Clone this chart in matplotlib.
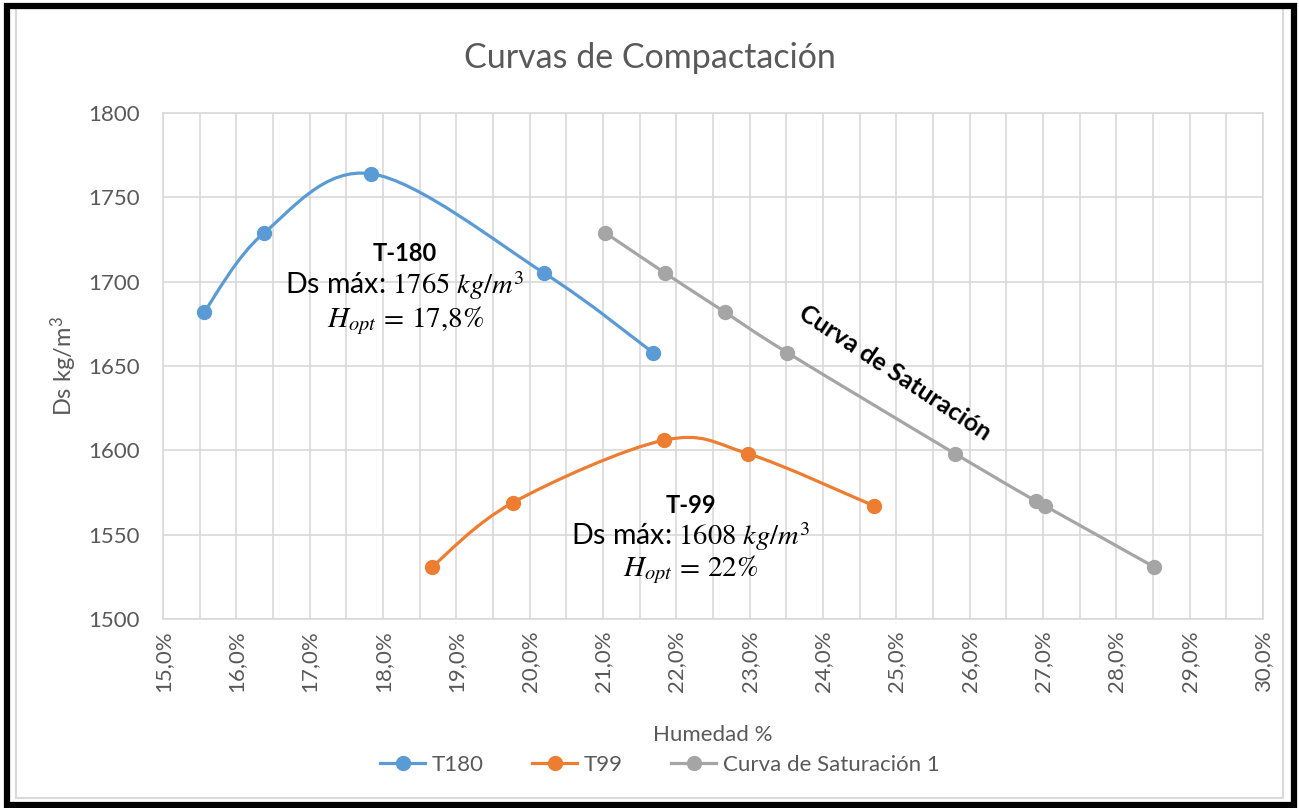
import numpy as np
import matplotlib.pyplot as plt
from matplotlib.path import Path
from matplotlib.patches import PathPatch, Rectangle
from matplotlib.lines import Line2D
from matplotlib.ticker import FuncFormatter, MultipleLocator

plt.rcParams['font.family'] = ['Lato', 'DejaVu Sans']
plt.rcParams['mathtext.fontset'] = 'stix'

# humedad (%) y densidad seca (kg/m3)
t180_h = [15.56, 16.38, 17.84, 20.20, 21.68]
t180_ds = [1682, 1729, 1764, 1705, 1658]
t99_h = [18.67, 19.77, 21.83, 22.98, 24.70]
t99_ds = [1531, 1569, 1606, 1598, 1567]
sat_h = [21.03, 21.85, 22.66, 23.51, 25.80, 26.90, 27.03, 28.51]
sat_ds = [1729, 1705, 1682, 1658, 1598, 1570, 1567, 1531]

series = [
    ("T180", t180_h, t180_ds, "#5B9BD5"),
    ("T99", t99_h, t99_ds, "#ED7D31"),
    ("Curva de Saturación 1", sat_h, sat_ds, "#A5A5A5"),
]

GRAY = "#595959"


def smooth_path(x, y):
    # curva suavizada tipo Excel (Bezier con tangentes Catmull-Rom)
    p = np.column_stack([x, y]).astype(float)
    n = len(p)
    verts = [p[0]]
    codes = [Path.MOVETO]
    for i in range(n - 1):
        p0 = p[i - 1] if i > 0 else p[i]
        p3 = p[i + 2] if i + 2 < n else p[i + 1]
        c1 = p[i] + (p[i + 1] - p0) / 6
        c2 = p[i + 1] - (p3 - p[i]) / 6
        verts += [c1, c2, p[i + 1]]
        codes += [Path.CURVE4] * 3
    return Path(verts, codes)


fig = plt.figure(figsize=(12.99, 8.08), dpi=100)
ax = fig.add_axes([0.1255, 0.2339, 0.8468, 0.6262])

for name, h, ds, color in series:
    ax.add_patch(PathPatch(smooth_path(h, ds), facecolor="none", edgecolor=color,
                           lw=2.3, zorder=3))
    ax.plot(h, ds, linestyle="none", marker="o", ms=10, color=color, zorder=4)

ax.set_xlim(15, 30)
ax.set_ylim(1500, 1800)
ax.xaxis.set_major_locator(MultipleLocator(1))
ax.xaxis.set_minor_locator(MultipleLocator(0.5))
ax.yaxis.set_major_locator(MultipleLocator(50))
ax.xaxis.set_major_formatter(FuncFormatter(lambda v, p: f"{v:.1f}%".replace(".", ",")))
ax.grid(True, which="both", axis="x", color="#D9D9D9", lw=1.2)
ax.grid(True, which="major", axis="y", color="#D9D9D9", lw=1.2)
ax.set_axisbelow(True)
for s in ax.spines.values():
    s.set_color("#D9D9D9")
    s.set_linewidth(1.2)
ax.tick_params(which="both", length=0, colors=GRAY, labelsize=16)
ax.tick_params(axis="x", labelrotation=90, pad=8)
ax.tick_params(axis="y", pad=17)

ax.set_xlabel("Humedad %", color=GRAY, fontsize=16, labelpad=24)
ax.set_ylabel("Ds kg/m$^{\\mathregular{3}}$", color=GRAY, fontsize=17, labelpad=6)
fig.text(0.5, 0.928, "Curvas de Compactación", ha="center", va="center",
         color=GRAY, fontsize=24.5)

# anotaciones
ax.text(18.3, 1716.5, "T-180", ha="center", va="center", fontsize=17, fontweight="bold")
ax.text(18.3, 1698, "Ds máx: $1765\\ kg/m^3$", ha="center", va="center", fontsize=20.5)
ax.text(18.3, 1677, "$H_{opt}\\,=\\,17{,}8\\%$", ha="center", va="center", fontsize=21)

ax.text(22.2, 1567.5, "T-99", ha="center", va="center", fontsize=17, fontweight="bold")
ax.text(22.2, 1549, "Ds máx: $1608\\ kg/m^3$", ha="center", va="center", fontsize=20.5)
ax.text(22.2, 1529, "$H_{opt}\\,=\\,22\\%$", ha="center", va="center", fontsize=21)

ax.text(24.98, 1646, "Curva de Saturación", ha="center", va="center", fontsize=18,
        fontweight="bold", rotation=-33.5, rotation_mode="anchor")

handles = [Line2D([0], [0], color=c, lw=2.3, marker="o", ms=10) for _, _, _, c in series]
fig.legend(handles, [s[0] for s in series], loc="center", bbox_to_anchor=(0.508, 0.053),
           ncol=3, frameon=False, fontsize=16, labelcolor=GRAY, handlelength=2.0,
           columnspacing=2.2, handletextpad=0.3)

# marco exterior
fig.add_artist(Rectangle((0.012, 0.012), 0.976, 0.978, transform=fig.transFigure,
                         fill=False, edgecolor="#D9D9D9", lw=1.5))
fig.add_artist(Rectangle((0.0055, 0.004), 0.9905, 0.9885, transform=fig.transFigure,
                         fill=False, edgecolor="black", lw=4.5))

fig.savefig("out.png", dpi=100)
